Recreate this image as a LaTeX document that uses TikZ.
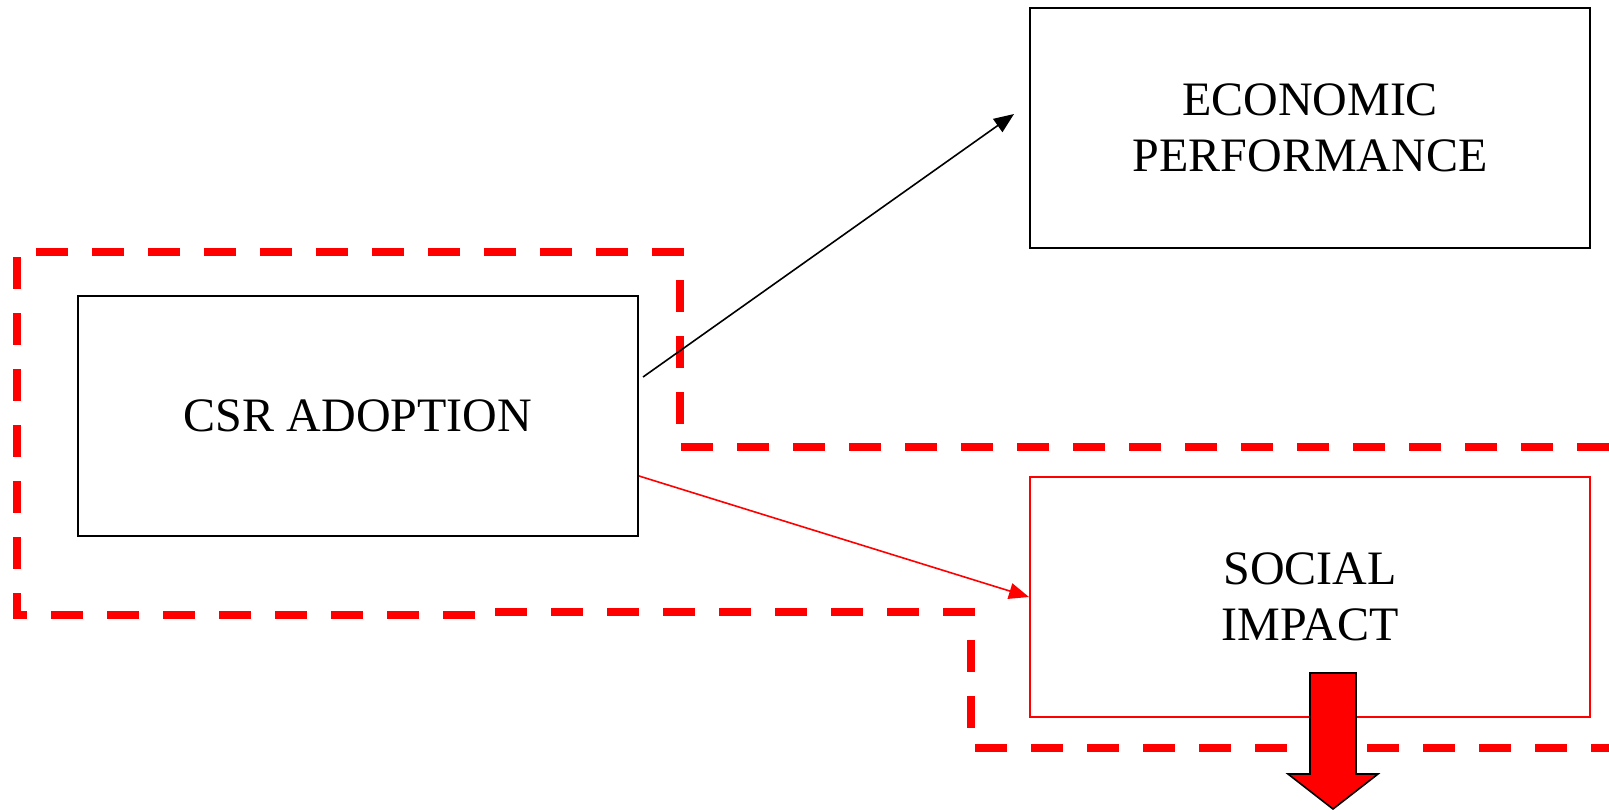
\documentclass[tikz,border=0pt]{standalone}
\usepackage{fontspec}
\setmainfont{Liberation Serif}
\usetikzlibrary{arrows.meta}

\begin{document}
\begin{tikzpicture}[x=0.5pt, y=-0.5pt,
  box/.style={draw, line width=1pt, minimum width=280pt, minimum height=120pt,
    align=center, font=\fontsize{24}{28}\selectfont},
  zone/.style={draw=red, line width=3.6pt, dash pattern=on 16pt off 12pt},
  link/.style={-{Triangle[length=10pt,width=8pt]}, line width=0.8pt}]
  \useasboundingbox (0,0) rectangle (1609,809);

  % dashed zone round the adoption box
  \draw[zone] (1609,447) -- (680,447) -- (680,252) -- (17,252) -- (17,615) -- (495,615);
  \draw[zone] (495,612) -- (971,612) -- (971,748) -- (1609,748);

  \node[box] (eco) at (1310,128) {ECONOMIC\\PERFORMANCE};
  \node[box] (csr) at (358,416) {CSR ADOPTION};
  \node[box, draw=red] (soc) at (1310,597) {SOCIAL\\IMPACT};

  \draw[link] ([shift={(4,-39)}]csr.east) -- ([shift={(-15,-14)}]eco.west);
  \draw[link, red] ([shift={(0,60)}]csr.east) -- (soc.west);

  % big arrow out of the social box
  \draw[fill=red, line width=0.8pt] (1310,673) -- (1356,673) -- (1356,774) -- (1378,774)
    -- (1333,809) -- (1288,774) -- (1310,774) -- cycle;
\end{tikzpicture}
\end{document}
